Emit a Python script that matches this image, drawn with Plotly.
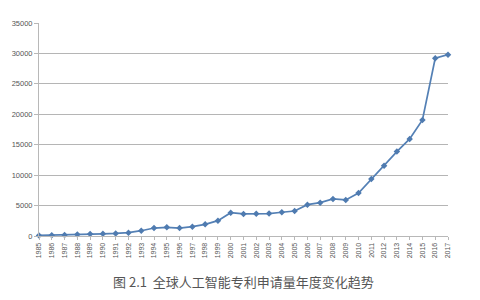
import plotly.graph_objects as go

years = list(range(1985, 2018))
applications = [100, 130, 180, 250, 330, 360, 420, 540, 870, 1310, 1420, 1300,
                1530, 1920, 2520, 3830, 3620, 3670, 3680, 3900, 4110, 5150,
                5480, 6090, 5920, 7070, 9380, 11560, 13870, 15950, 19080,
                29200, 29800]
y_ticks = [0, 5000, 10000, 15000, 20000, 25000, 30000, 35000]
caption = "图 2.1  全球人工智能专利申请量年度变化趋势"

fig = go.Figure()
fig.add_trace(go.Scatter(
    x=years, y=applications, mode="lines+markers",
    line=dict(color="#5480b5", width=1.7),
    marker=dict(symbol="diamond", size=5, color="#4f7bb0"),
    cliponaxis=False, showlegend=False,
))

fig.update_layout(
    width=480, height=300,
    margin=dict(l=31, r=32, t=23, b=64),
    paper_bgcolor="white", plot_bgcolor="white",
    font=dict(family="Liberation Sans, Arial, sans-serif", color="#555555", size=7),
    xaxis=dict(
        range=[1985, 2017], tickmode="array", tickvals=years,
        ticktext=[str(y) for y in years], tickangle=-90,
        showgrid=False, showline=True, linecolor="#b8b8b8", linewidth=1,
        ticks="outside", ticklen=3, tickcolor="#b8b8b8",
        tickfont=dict(size=7, color="#555555"), zeroline=False,
    ),
    yaxis=dict(
        range=[0, 35000], tickmode="array", tickvals=y_ticks,
        ticktext=[str(v) for v in y_ticks],
        showgrid=True, gridcolor="#b5b5b5", gridwidth=1,
        showline=True, linecolor="#b8b8b8", linewidth=1,
        ticks="outside", ticklen=4, tickcolor="#b8b8b8",
        tickfont=dict(size=7.5, color="#555555"), zeroline=False,
    ),
    annotations=[dict(
        text=caption,
        x=(240 - 31) / (480 - 31 - 32),
        y=(300 - 64 - 281) / (300 - 23 - 64),
        xref="paper", yref="paper", xanchor="center", yanchor="middle",
        showarrow=False,
        font=dict(family="Noto Sans CJK SC", size=13, color="#555555"),
    )],
)

fig.write_html("out.html")
